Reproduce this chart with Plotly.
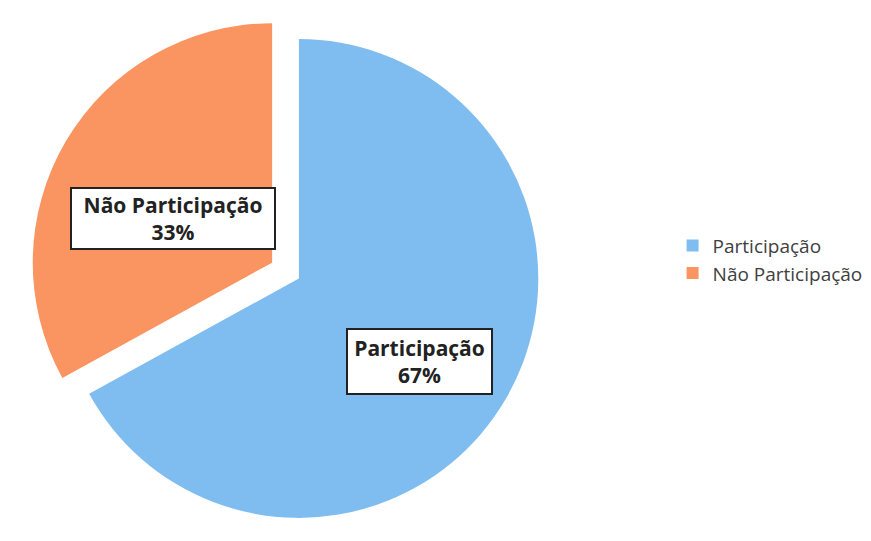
import plotly.graph_objects as go

labels = ["Participação", "Não Participação"]
values = [67, 33]
pulls = [0, 0.13]
colors = ["#7FBDF1", "#FA9562"]

total = sum(values)
pcts = [round(v / total * 100) for v in values]

fig = go.Figure()
fig.add_trace(
    go.Pie(
        labels=labels,
        values=values,
        pull=pulls,
        sort=False,
        direction="clockwise",
        rotation=0,
        textinfo="none",
        hoverinfo="label+percent",
        marker=dict(colors=colors, line=dict(width=0)),
        domain=dict(x=[0, 0.668], y=[0, 1]),
    )
)

# data labels drawn as boxed annotations (the scan has white boxes with dark border)
label_pos = [(0.472, 0.347), (0.19, 0.61)]
label_size = [(139, 59), (198, 55)]
for lab, p, (x, y), (w, h) in zip(labels, pcts, label_pos, label_size):
    fig.add_annotation(
        x=x, y=y, xref="paper", yref="paper",
        xanchor="center", yanchor="middle",
        text=f"<b>{lab}<br>{p}%</b>",
        showarrow=False,
        font=dict(family="Open Sans, sans-serif", size=21, color="#222222"),
        bgcolor="white",
        bordercolor="#222222",
        borderwidth=2,
        borderpad=2,
        width=w,
        height=h,
        align="center",
        valign="middle",
    )

fig.update_layout(
    width=871,
    height=541,
    paper_bgcolor="white",
    plot_bgcolor="white",
    margin=dict(l=0, r=0, t=0, b=0),
    showlegend=True,
    legend=dict(
        x=0.763, y=0.535,
        xanchor="left", yanchor="middle",
        font=dict(family="Open Sans, sans-serif", size=19, color="#404040"),
        bgcolor="rgba(0,0,0,0)",
    ),
)

fig.write_html("out.html")
